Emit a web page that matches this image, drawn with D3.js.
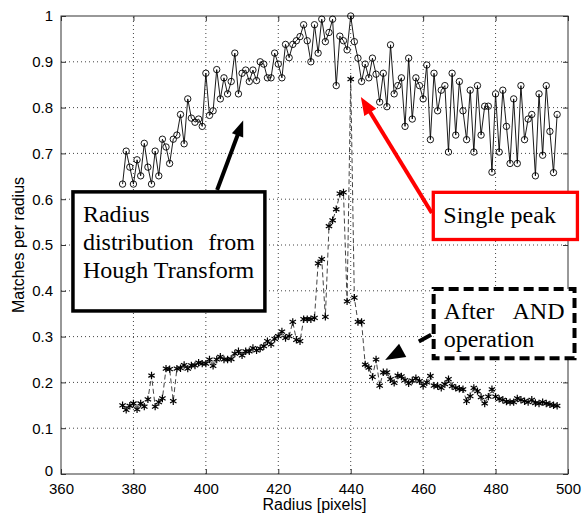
<!DOCTYPE html>
<html lang="en">
<head>
<meta charset="UTF-8">
<title>Matches per radius</title>
<style>
  body { margin: 0; background: #fff; }
  svg { display: block; }
  .tick text { font-family: "Liberation Sans", Arial, sans-serif; font-size: 15px; fill: #000; }
  .axis-label { font-family: "Liberation Sans", Arial, sans-serif; font-size: 16px; fill: #000; }
  .note { font-family: "Liberation Serif", "Times New Roman", serif; font-size: 24px; fill: #000; }
</style>
</head>
<body>
<script src="https://d3js.org/d3.v7.min.js"></script>
<script>
// radius in pixels, one sample per pixel
var radii = [
  377, 378, 379, 380, 381, 382, 383, 384, 385, 386, 387, 388, 389, 390, 391, 392, 393, 394, 395, 396,
  397, 398, 399, 400, 401, 402, 403, 404, 405, 406, 407, 408, 409, 410, 411, 412, 413, 414, 415, 416,
  417, 418, 419, 420, 421, 422, 423, 424, 425, 426, 427, 428, 429, 430, 431, 432, 433, 434, 435, 436,
  437, 438, 439, 440, 441, 442, 443, 444, 445, 446, 447, 448, 449, 450, 451, 452, 453, 454, 455, 456,
  457, 458, 459, 460, 461, 462, 463, 464, 465, 466, 467, 468, 469, 470, 471, 472, 473, 474, 475, 476,
  477, 478, 479, 480, 481, 482, 483, 484, 485, 486, 487, 488, 489, 490, 491, 492, 493, 494, 495, 496,
  497
];

// radius distribution from Hough transform (circles, solid)
var houghVals = [
  0.633, 0.705, 0.670, 0.633, 0.686, 0.651, 0.722, 0.670, 0.633, 0.705, 0.651, 0.731, 0.714, 0.678, 0.731, 0.740, 0.785, 0.721, 0.819, 0.777,
  0.768, 0.775, 0.759, 0.875, 0.783, 0.793, 0.883, 0.819, 0.865, 0.830, 0.857, 0.919, 0.830, 0.875, 0.882, 0.857, 0.882, 0.859, 0.900, 0.895,
  0.865, 0.865, 0.919, 0.895, 0.865, 0.938, 0.909, 0.938, 0.946, 0.955, 0.981, 0.946, 0.900, 0.981, 0.919, 0.993, 0.944, 0.964, 0.993, 0.848,
  0.956, 0.946, 0.926, 1.000, 0.944, 0.908, 0.857, 0.895, 0.865, 0.908, 0.873, 0.812, 0.875, 0.802, 0.937, 0.830, 0.848, 0.865, 0.759, 0.908,
  0.775, 0.865, 0.848, 0.819, 0.893, 0.730, 0.875, 0.793, 0.838, 0.848, 0.703, 0.875, 0.740, 0.857, 0.793, 0.730, 0.838, 0.703, 0.848, 0.740,
  0.803, 0.803, 0.659, 0.830, 0.703, 0.838, 0.759, 0.678, 0.819, 0.678, 0.848, 0.730, 0.775, 0.785, 0.651, 0.830, 0.696, 0.848, 0.748, 0.658,
  0.785
];

// after AND operation (asterisks, dashed)
var andVals = [
  0.150, 0.140, 0.149, 0.154, 0.141, 0.154, 0.147, 0.163, 0.215, 0.147, 0.157, 0.165, 0.230, 0.229, 0.159, 0.230, 0.231, 0.238, 0.230, 0.237,
  0.237, 0.243, 0.241, 0.241, 0.250, 0.236, 0.250, 0.256, 0.250, 0.250, 0.251, 0.263, 0.268, 0.259, 0.268, 0.268, 0.275, 0.270, 0.274, 0.279,
  0.290, 0.283, 0.295, 0.301, 0.311, 0.297, 0.301, 0.332, 0.293, 0.290, 0.338, 0.338, 0.338, 0.341, 0.460, 0.469, 0.343, 0.541, 0.554, 0.578,
  0.612, 0.615, 0.377, 0.862, 0.385, 0.332, 0.332, 0.239, 0.232, 0.212, 0.250, 0.193, 0.222, 0.222, 0.207, 0.199, 0.215, 0.213, 0.205, 0.198,
  0.204, 0.209, 0.203, 0.193, 0.200, 0.214, 0.193, 0.192, 0.188, 0.196, 0.207, 0.192, 0.188, 0.186, 0.185, 0.159, 0.170, 0.188, 0.181, 0.168,
  0.154, 0.169, 0.185, 0.169, 0.164, 0.162, 0.158, 0.157, 0.157, 0.165, 0.162, 0.159, 0.157, 0.162, 0.155, 0.154, 0.157, 0.154, 0.152, 0.150,
  0.149
];

var xTicks = [360, 380, 400, 420, 440, 460, 480, 500];
var yTicks = [0, 0.1, 0.2, 0.3, 0.4, 0.5, 0.6, 0.7, 0.8, 0.9, 1];
var yTickLabels = ["0", "0.1", "0.2", "0.3", "0.4", "0.5", "0.6", "0.7", "0.8", "0.9", "1"];

var width = 582, height = 520;
var margin = { left: 61, right: 14, top: 16, bottom: 46 };

var x = d3.scaleLinear().domain([360, 500]).range([margin.left, width - margin.right]);
var y = d3.scaleLinear().domain([0, 1]).range([height - margin.bottom, margin.top]);

var svg = d3.select("body").append("svg")
  .attr("width", width)
  .attr("height", height);

svg.append("rect").attr("width", width).attr("height", height).attr("fill", "#fff");

// dotted grid
var grid = svg.append("g").attr("stroke", "#444").attr("stroke-width", 1).attr("stroke-dasharray", "1,3");
grid.selectAll(".gx").data(xTicks.slice(1, -1)).enter().append("line")
  .attr("x1", function (d) { return x(d); }).attr("x2", function (d) { return x(d); })
  .attr("y1", y(0)).attr("y2", y(1));
grid.selectAll(".gy").data(yTicks.slice(1, -1)).enter().append("line")
  .attr("x1", x(360)).attr("x2", x(500))
  .attr("y1", function (d) { return y(d); }).attr("y2", function (d) { return y(d); });

// axes, ticks pointing inward on all four sides
var axisColor = "#333";
function styleAxis(g) {
  g.select(".domain").remove();
  g.selectAll(".tick line").attr("stroke", axisColor);
}
svg.append("g").attr("transform", "translate(0," + y(0) + ")")
  .call(d3.axisBottom(x).tickValues(xTicks).tickSizeInner(-5).tickSizeOuter(0).tickPadding(9))
  .call(styleAxis);
svg.append("g").attr("transform", "translate(0," + y(1) + ")")
  .call(d3.axisTop(x).tickValues(xTicks).tickSizeInner(-5).tickSizeOuter(0).tickFormat(""))
  .call(styleAxis);
var yAxis = svg.append("g").attr("transform", "translate(" + x(360) + ",0)")
  .call(d3.axisLeft(y).tickValues(yTicks).tickSizeInner(-5).tickSizeOuter(0).tickPadding(8)
    .tickFormat(function (d, i) { return yTickLabels[i]; }))
  .call(styleAxis);
// lift the "0" label a little so it clears the "360" label below it
yAxis.selectAll(".tick text").filter(function (d) { return d === 0; }).attr("dy", "0.1em");
svg.append("g").attr("transform", "translate(" + x(500) + ",0)")
  .call(d3.axisRight(y).tickValues(yTicks).tickSizeInner(-5).tickSizeOuter(0).tickFormat(""))
  .call(styleAxis);

svg.append("rect")
  .attr("x", x(360)).attr("y", y(1))
  .attr("width", x(500) - x(360)).attr("height", y(0) - y(1))
  .attr("fill", "none").attr("stroke", axisColor).attr("stroke-width", 1);

svg.append("text").attr("class", "axis-label")
  .attr("x", (x(360) + x(500)) / 2).attr("y", 510)
  .attr("text-anchor", "middle")
  .text("Radius [pixels]");
svg.append("text").attr("class", "axis-label")
  .attr("transform", "translate(24," + (y(0) + y(1)) / 2 + ") rotate(-90)")
  .attr("text-anchor", "middle")
  .text("Matches per radius");

// series
var hough = radii.map(function (r, i) { return { r: r, v: houghVals[i] }; });
var anded = radii.map(function (r, i) { return { r: r, v: andVals[i] }; });

var line = d3.line()
  .x(function (d) { return x(d.r); })
  .y(function (d) { return y(d.v); });

svg.append("path").datum(anded)
  .attr("d", line)
  .attr("fill", "none")
  .attr("stroke", "#444")
  .attr("stroke-width", 1)
  .attr("stroke-dasharray", "5,3");

svg.append("g").selectAll("path").data(anded).enter().append("path")
  .attr("transform", function (d) { return "translate(" + x(d.r) + "," + y(d.v) + ")"; })
  .attr("d", d3.symbol().type(d3.symbolAsterisk).size(38))
  .attr("fill", "none")
  .attr("stroke", "#000")
  .attr("stroke-width", 1.2);

svg.append("path").datum(hough)
  .attr("d", line)
  .attr("fill", "none")
  .attr("stroke", "#000")
  .attr("stroke-width", 0.9);

svg.append("g").selectAll("circle").data(hough).enter().append("circle")
  .attr("cx", function (d) { return x(d.r); })
  .attr("cy", function (d) { return y(d.v); })
  .attr("r", 3.2)
  .attr("fill", "none")
  .attr("stroke", "#000")
  .attr("stroke-width", 0.9);

// annotations, placed in data units
var notes = [
  { box: [363.3, 416.3, 0.616, 0.356], color: "#000", width: 3.5, dash: null,
    lines: [["Radius"], ["distribution", "from"], ["Hough Transform"]] },
  { box: [462.8, 502.6, 0.615, 0.512], color: "#ff0000", width: 3.3, dash: null,
    lines: [["Single peak"]] },
  { box: [462.9, 501.8, 0.404, 0.253], color: "#000", width: 4, dash: "10,5",
    lines: [["After", "AND"], ["operation"]] }
];

var arrows = [
  { from: [403.1, 0.620], to: [410.3, 0.772], color: "#000", width: 4, head: [16, 12], dash: null },
  { from: [462.4, 0.570], to: [442.8, 0.823], color: "#ff0000", width: 4, head: [18, 14], dash: null },
  { from: [462.2, 0.304], to: [449.5, 0.249], color: "#000", width: 4, head: [20, 15], dash: "14,20" }
];

notes.forEach(function (n) {
  var left = x(n.box[0]), right = x(n.box[1]), top = y(n.box[2]), bottom = y(n.box[3]);
  svg.append("rect")
    .attr("x", left).attr("y", top)
    .attr("width", right - left).attr("height", bottom - top)
    .attr("fill", "#fff")
    .attr("stroke", n.color).attr("stroke-width", n.width)
    .attr("stroke-dasharray", n.dash);
  n.lines.forEach(function (words, i) {
    var base = top + 30.5 + i * 28;
    svg.append("text").attr("class", "note")
      .attr("x", left + 10).attr("y", base).text(words[0]);
    if (words.length > 1) {
      svg.append("text").attr("class", "note")
        .attr("x", right - 10).attr("y", base)
        .attr("text-anchor", "end").text(words[1]);
    }
  });
});

arrows.forEach(function (a) {
  var x0 = x(a.from[0]), y0 = y(a.from[1]), x1 = x(a.to[0]), y1 = y(a.to[1]);
  var len = Math.hypot(x1 - x0, y1 - y0);
  var ux = (x1 - x0) / len, uy = (y1 - y0) / len;
  var bx = x1 - ux * a.head[0], by = y1 - uy * a.head[0];
  svg.append("line")
    .attr("x1", x0).attr("y1", y0).attr("x2", bx + ux * 2).attr("y2", by + uy * 2)
    .attr("stroke", a.color).attr("stroke-width", a.width)
    .attr("stroke-dasharray", a.dash);
  var hw = a.head[1] / 2;
  svg.append("path")
    .attr("d", "M" + x1 + "," + y1 +
      "L" + (bx - uy * hw) + "," + (by + ux * hw) +
      "L" + (bx + uy * hw) + "," + (by - ux * hw) + "Z")
    .attr("fill", a.color);
});
</script>
</body>
</html>
